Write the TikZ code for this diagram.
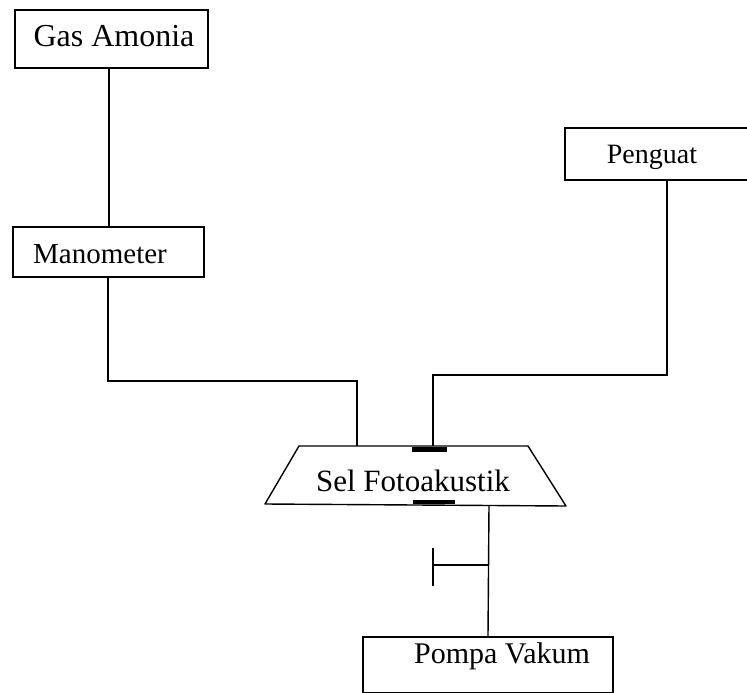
\documentclass[tikz,border=0pt]{standalone}
\usepackage{fontspec}
\setmainfont{Liberation Serif}
\begin{document}
\begin{tikzpicture}[x=1pt,y=-1pt,
  box/.style={draw, line width=1.4pt, rectangle, inner sep=0pt},
  wire/.style={line width=1.4pt},
  lbl/.style={anchor=base, inner sep=0pt},
  fs/.style={font=\fontsize{#1}{#1}\selectfont}]
\useasboundingbox (0,0) rectangle (747,693);
\begin{scope}
\clip (0,0) rectangle (747,693);

% instrument boxes
\node[box, minimum width=193pt, minimum height=58pt] (gas) at (111.5,39) {};
\node[lbl, fs=32] (gastext) at (114,47) {Gas Amonia};

\node[box, minimum width=191pt, minimum height=50pt] (mano) at (108.5,252) {};
\node[lbl, fs=29] (manotext) at (100,263) {Manometer};

\node[box, minimum width=204pt, minimum height=52pt] (peng) at (667,154) {};
\node[lbl, fs=28] (pengtext) at (652,163) {Penguat};

\node[box, minimum width=250pt, minimum height=56pt] (pompa) at (488,665) {};
\node[lbl, fs=30] (pompatext) at (502,663) {Pompa Vakum};

% photoacoustic cell (trapezoid)
\coordinate (tl) at (299,446);
\coordinate (tr) at (528,446);
\coordinate (br) at (566,506);
\coordinate (bl) at (265,504);
\draw[wire, line join=round] (tl) -- (tr) -- (br) -- (bl) -- cycle;
\node[lbl, fs=31] (cell) at (413,491) {Sel Fotoakustik};
\fill (412,446.5) rectangle (447,451.5);
\fill (413,499.5) rectangle (455,503.5);

% ports and bends
\coordinate (inL) at (357,446);
\coordinate (inR) at (433,446);
\coordinate (bendL) at (357,381);
\coordinate (bendR) at (433,375);
\coordinate (out) at (489,505);
\coordinate (tee) at (489,565);
\coordinate (valve) at (433,565);
\coordinate (valvetop) at (433,548);
\coordinate (valvebot) at (433,586);

% connectors
\draw[wire] (gas.south -| 109,0) -- (109,227);
\draw[wire] (mano.south -| 108,0) |- (bendL) -- (inL);
\draw[wire] (peng.south) |- (bendR) -- (inR);
\draw[wire] (out) -- (pompa.north);
\draw[wire] (tee) -- (valve);
\draw[wire] (valvetop) -- (valvebot);
\end{scope}
\end{tikzpicture}
\end{document}
